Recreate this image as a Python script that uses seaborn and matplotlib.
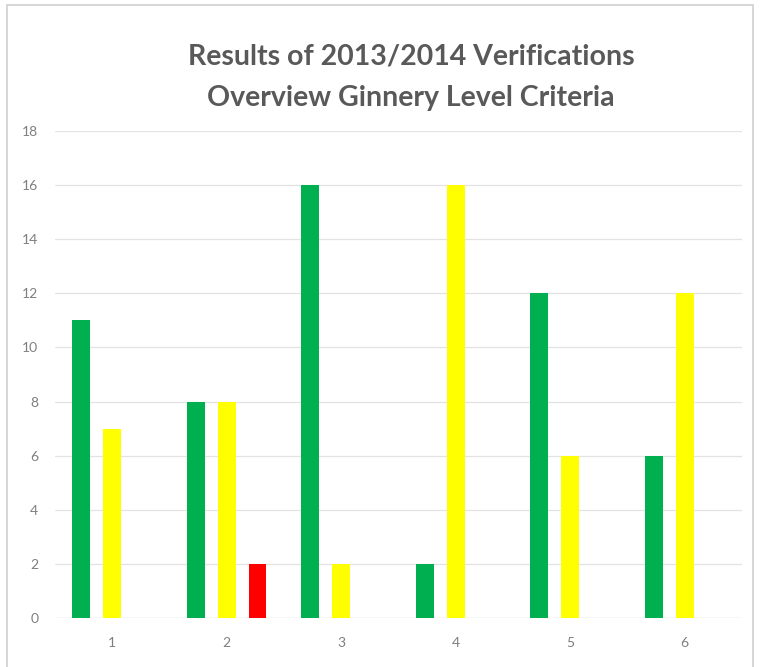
import matplotlib
matplotlib.use("Agg")
import matplotlib.pyplot as plt
from matplotlib.patches import Rectangle
import seaborn as sns
import pandas as pd

# Values
categories = ["1", "2", "3", "4", "5", "6"]
green_vals = [11, 8, 16, 2, 12, 6]
yellow_vals = [7, 8, 2, 16, 6, 12]
red_vals = [0, 2, 0, 0, 0, 0]
series = ["Green", "Yellow", "Red"]
colors = ["#00B050", "#FFFF00", "#FF0000"]

df = pd.DataFrame({
    "category": categories * 3,
    "series": [series[0]] * 6 + [series[1]] * 6 + [series[2]] * 6,
    "value": green_vals + yellow_vals + red_vals,
})

sns.set_style("white")
plt.rcParams["font.family"] = ["Lato", "DejaVu Sans"]

fig = plt.figure(figsize=(7.61, 6.67), dpi=100)
ax = fig.add_axes([0.072, 0.0735, 0.903, 0.730])

sns.barplot(
    data=df, x="category", y="value", hue="series",
    palette=colors, saturation=1, width=0.81, gap=0.42, linewidth=0,
    legend=False, ax=ax,
)

ax.set_ylim(0, 18)
ax.set_yticks(range(0, 19, 2))
ax.grid(axis="y", color="#e3e3e3", linewidth=0.9)
ax.set_axisbelow(True)
for s in ax.spines.values():
    s.set_visible(False)
ax.axhline(0, color="#d9d9d9", linewidth=0.9, zorder=0)
ax.tick_params(axis="both", length=0, labelsize=10, colors="#7f7f7f")
ax.tick_params(axis="x", pad=14)
ax.tick_params(axis="y", pad=12)
ax.set_xlabel("")
ax.set_ylabel("")

fig.text(0.54, 0.915, "Results of 2013/2014 Verifications",
         ha="center", va="center", fontsize=20.5, fontweight="bold", color="#595959")
fig.text(0.54, 0.853, "Overview Ginnery Level Criteria",
         ha="center", va="center", fontsize=20.5, fontweight="bold", color="#595959")

# light chart-area frame
fig.patches.append(Rectangle((0.009, -0.01), 0.98, 1.002, transform=fig.transFigure,
                             fill=False, edgecolor="#d0d0d0", linewidth=1.2))

fig.savefig("out.png", dpi=100)
